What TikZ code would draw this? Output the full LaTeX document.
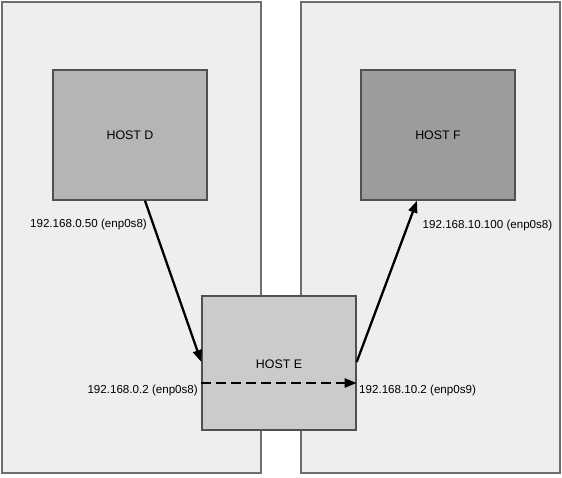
\documentclass[tikz,border=0pt]{standalone}
\usepackage{fontspec}
\setmainfont{Liberation Sans}
\usetikzlibrary{arrows.meta}
\definecolor{panelfill}{HTML}{EEEEEE}
\definecolor{panelline}{HTML}{6E6E6E}
\definecolor{dfill}{HTML}{B5B5B5}
\definecolor{ffill}{HTML}{9C9C9C}
\definecolor{efill}{HTML}{CBCBCB}
\definecolor{boxline}{HTML}{505050}
\tikzset{
  panel/.style={draw=panelline, fill=panelfill, line width=1.2pt},
  hostbox/.style={draw=boxline, line width=1.4pt, inner sep=0pt, font=\fontsize{12.4}{14}\selectfont},
  iplabel/.style={inner sep=0pt, font=\fontsize{11.6}{13}\selectfont},
  link/.style={line width=2.3pt, -{Triangle[length=12pt,width=9pt]}},
}
\begin{document}
\begin{tikzpicture}[x=1pt,y=-1pt]
\useasboundingbox (0,0) rectangle (562,477);
\fill[white] (0,0) rectangle (562,477);
\draw[panel] (2,2) rectangle (261,473);
\draw[panel] (301,2) rectangle (560,473);
\node[hostbox, fill=dfill, minimum width=154pt, minimum height=130pt] (D) at (130,135) {HOST D};
\node[hostbox, fill=ffill, minimum width=154pt, minimum height=130pt] (F) at (438,135) {HOST F};
\node[hostbox, fill=efill, minimum width=154pt, minimum height=134pt] (E) at (279,363) {};
\node[iplabel, font=\fontsize{12.4}{14}\selectfont] (Etext) at (279,364) {HOST E};
\coordinate (Din) at (E.west |- 0,362);
\coordinate (Eout) at (E.east |- 0,362);
\coordinate (Dout) at (D.south -| 145,0);
\coordinate (Fin) at (F.south -| 417,0);
\coordinate (dashA) at (E.west |- 0,383);
\coordinate (dashB) at (E.east |- 0,383);
\draw[link] (Dout) -- (Din);
\draw[link] (Eout) -- (Fin);
\draw[link, dash pattern=on 10pt off 5pt] (dashA) -- (dashB);
\node[iplabel] (lD) at (88.5,224) {192.168.0.50 (enp0s8)};
\node[iplabel] (lF) at (487.5,225) {192.168.10.100 (enp0s8)};
\node[iplabel, anchor=east] (lE1) at (198,390) {192.168.0.2 (enp0s8)};
\node[iplabel, anchor=west] (lE2) at (359,390) {192.168.10.2 (enp0s9)};
\end{tikzpicture}
\end{document}
